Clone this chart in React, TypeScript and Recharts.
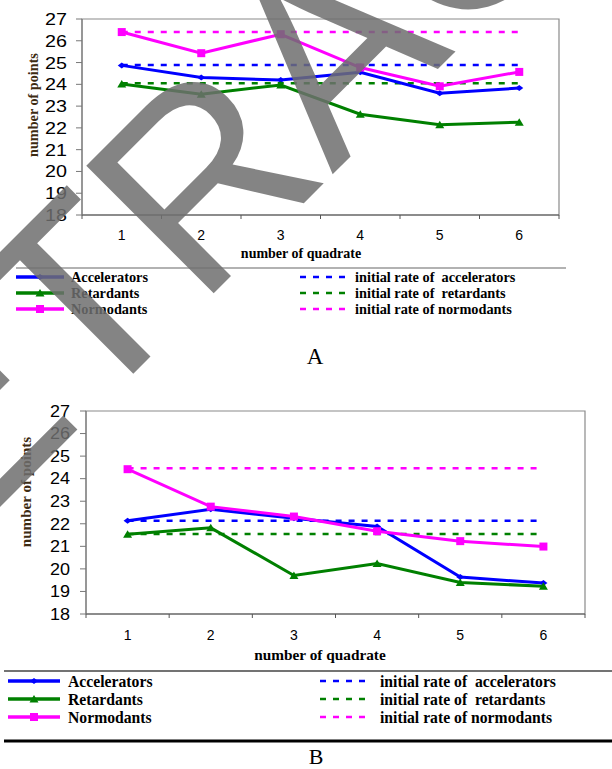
import React from "react";
import { LineChart, Line, XAxis, YAxis, ReferenceLine, ReferenceArea } from "recharts";

// number of quadrate
const quadrates = [1, 2, 3, 4, 5, 6];
const xTicks = [0.5, 1, 1.5, 2, 2.5, 3, 3.5, 4, 4.5, 5, 5.5, 6, 6.5];
const yTicks = [18, 19, 20, 21, 22, 23, 24, 25, 26, 27];

// chart A
const accA = [24.87, 24.31, 24.2, 24.55, 23.59, 23.83];
const retA = [24.02, 23.55, 23.97, 22.63, 22.14, 22.26];
const normA = [26.4, 25.43, 26.3, 24.77, 23.91, 24.57];
const initA = [24.89, 24.05, 26.4]; // accelerators, retardants, normodants

// chart B
const accB = [22.13, 22.64, 22.25, 21.88, 19.64, 19.37];
const retB = [21.54, 21.82, 19.71, 20.24, 19.4, 19.23];
const normB = [24.42, 22.76, 22.32, 21.67, 21.23, 20.99];
const initB = [22.13, 21.55, 24.46];

const seriesNames = ["Accelerators", "Retardants", "Normodants"];
const initNames = [
  "initial rate of  accelerators",
  "initial rate of  retardants",
  "initial rate of normodants",
];
const COLORS = ["#0000ff", "#008000", "#ff00ff"];

const SERIF = "'Liberation Serif', 'Times New Roman', serif";
const SANS = "'Liberation Sans', Arial, sans-serif";

const makeData = (a: number[], r: number[], n: number[]) =>
  quadrates.map((q, i) => ({ q, acc: a[i], ret: r[i], norm: n[i] }));

const dataA = makeData(accA, retA, normA);
const dataB = makeData(accB, retB, normB);

function marker(kind: number, cx: number, cy: number, key?: string) {
  const c = COLORS[kind];
  if (kind === 0)
    return <path key={key} d={`M${cx - 4},${cy} L${cx},${cy - 3} L${cx + 4},${cy} L${cx},${cy + 3} Z`} fill={c} />;
  if (kind === 1)
    return <path key={key} d={`M${cx - 4.5},${cy + 3.5} L${cx},${cy - 4} L${cx + 4.5},${cy + 3.5} Z`} fill={c} />;
  return <rect key={key} x={cx - 4} y={cy - 4} width={8} height={8} fill={c} />;
}

const dot = (kind: number) => (p: any) => marker(kind, p.cx, p.cy, p.key);

const xTick = (off: number) => (p: any) => {
  const v = p.payload.value;
  if (Number.isInteger(v))
    return (
      <text x={p.x} y={p.y + off} textAnchor="middle" fontSize={14} fontFamily={SANS} fill="#000">
        {v}
      </text>
    );
  return <line x1={p.x} x2={p.x} y1={p.y} y2={p.y + 4} stroke="#555" />;
};

const yTick = (gap: number, sx: number) => (p: any) => (
  <g>
    <line x1={p.x - 6} x2={p.x} y1={p.y} y2={p.y} stroke="#777" />
    <text
      transform={`translate(${p.x - gap},${p.y}) scale(${sx},1)`}
      textAnchor="end"
      dominantBaseline="central"
      fontSize={17}
      fontFamily={SANS}
      fill="#000"
    >
      {p.payload.value}
    </text>
  </g>
);

function Chart({
  data,
  init,
  height,
  margin,
  yWidth,
  tickOff,
  gap,
  sx,
}: {
  data: any[];
  init: number[];
  height: number;
  margin: any;
  yWidth: number;
  tickOff: number;
  gap: number;
  sx: number;
}) {
  const keys = ["acc", "ret", "norm"];
  return (
    <LineChart width={612} height={height} data={data} margin={margin}>
      <ReferenceArea x1={0.5} x2={6.5} y1={18} y2={27} fill="none" stroke="#8a8a8a" strokeWidth={1.2} />
      <XAxis
        dataKey="q"
        type="number"
        domain={[0.5, 6.5]}
        ticks={xTicks}
        interval={0}
        tickLine={false}
        tickSize={0}
        tickMargin={0}
        height={40}
        axisLine={{ stroke: "#555" }}
        tick={xTick(tickOff)}
      />
      <YAxis
        type="number"
        domain={[18, 27]}
        ticks={yTicks}
        interval={0}
        width={yWidth}
        tickLine={false}
        tickSize={0}
        tickMargin={0}
        axisLine={{ stroke: "#777" }}
        tick={yTick(gap, sx)}
      />
      {init.map((v, i) => (
        <ReferenceLine
          key={"i" + i}
          segment={[
            { x: quadrates[0], y: v },
            { x: quadrates[quadrates.length - 1], y: v },
          ]}
          stroke={COLORS[i]}
          strokeWidth={2.5}
          strokeDasharray="6 7"
        />
      ))}
      {keys.map((k, i) => (
        <Line
          key={k}
          dataKey={k}
          stroke={COLORS[i]}
          strokeWidth={3}
          dot={dot(i)}
          activeDot={false}
          isAnimationActive={false}
        />
      ))}
    </LineChart>
  );
}

function Legend({
  rows,
  lineX,
  textX,
  dashX,
  initX,
  size,
}: {
  rows: number[];
  lineX: number[];
  textX: number;
  dashX: number[];
  initX: number;
  size: number;
}) {
  return (
    <g fontFamily={SERIF} fontWeight="bold" fontSize={size} fill="#000">
      {rows.map((y, i) => (
        <g key={i}>
          <line x1={lineX[0]} x2={lineX[1]} y1={y} y2={y} stroke={COLORS[i]} strokeWidth={3.5} />
          {marker(i, (lineX[0] + lineX[1]) / 2, y)}
          <text x={textX} y={y} dominantBaseline="central">
            {seriesNames[i]}
          </text>
          <line
            x1={dashX[0]}
            x2={dashX[1]}
            y1={y}
            y2={y}
            stroke={COLORS[i]}
            strokeWidth={2.5}
            strokeDasharray="6 7"
          />
          <text x={initX} y={y} dominantBaseline="central" style={{ whiteSpace: "pre" }}>
            {initNames[i]}
          </text>
        </g>
      ))}
    </g>
  );
}

export default function App() {
  return (
    <div style={{ position: "absolute", left: 0, top: 0, width: 612, height: 769, background: "#fff", overflow: "hidden" }}>
      <div style={{ position: "absolute", left: 0, top: 0 }}>
        <Chart
          data={dataA}
          init={initA}
          height={265}
          margin={{ top: 19, right: 53, bottom: 10, left: 0 }}
          yWidth={82}
          tickOff={25}
          gap={15}
          sx={1.16}
        />
      </div>
      <div style={{ position: "absolute", left: 0, top: 392 }}>
        <Chart
          data={dataB}
          init={initB}
          height={270}
          margin={{ top: 19, right: 27, bottom: 8, left: 0 }}
          yWidth={86}
          tickOff={26}
          gap={16}
          sx={1.06}
        />
      </div>
      <svg width={612} height={769} style={{ position: "absolute", left: 0, top: 0 }}>
        <g fontFamily={SERIF} fontWeight="bold" fill="#000">
          <text x={301} y={253} textAnchor="middle" dominantBaseline="central" fontSize={14}>
            number of quadrate
          </text>
          <text x={320} y={654} textAnchor="middle" dominantBaseline="central" fontSize={15.3}>
            number of quadrate
          </text>
          <text transform="translate(33,105) rotate(-90)" textAnchor="middle" dominantBaseline="central" fontSize={14.2} fill="#3d2b12">
            number of points
          </text>
          <text transform="translate(26,492) rotate(-90)" textAnchor="middle" dominantBaseline="central" fontSize={15.1} fill="#3d2b12">
            number of points
          </text>
        </g>
        <line x1={16} x2={566} y1={268} y2={268} stroke="#999" strokeWidth={1.5} />
        <Legend rows={[277, 293, 309]} lineX={[16, 64]} textX={71} dashX={[300, 347]} initX={355} size={14.3} />
        <text x={315} y={356} textAnchor="middle" dominantBaseline="central" fontSize={23} fontFamily={SERIF}>
          A
        </text>
        <line x1={4} x2={612} y1={671} y2={671} stroke="#444" strokeWidth={1.5} />
        <Legend rows={[681, 699, 717]} lineX={[8, 60]} textX={68} dashX={[320, 371]} initX={380} size={15.7} />
        <line x1={4} x2={612} y1={741} y2={741} stroke="#000" strokeWidth={3} />
        <text x={316} y={756} textAnchor="middle" dominantBaseline="central" fontSize={22} fontFamily={SERIF}>
          B
        </text>
      </svg>
      <svg width={612} height={769} style={{ position: "absolute", left: 0, top: 0, pointerEvents: "none" }}>
        <text
          x={-172}
          y={679}
          transform="rotate(-45 -172 679)"
          fontSize={262}
          fontFamily={SANS}
          fill="#6f6f6f"
          fillOpacity={0.85}
        >
          RETRACTED
        </text>
      </svg>
    </div>
  );
}
